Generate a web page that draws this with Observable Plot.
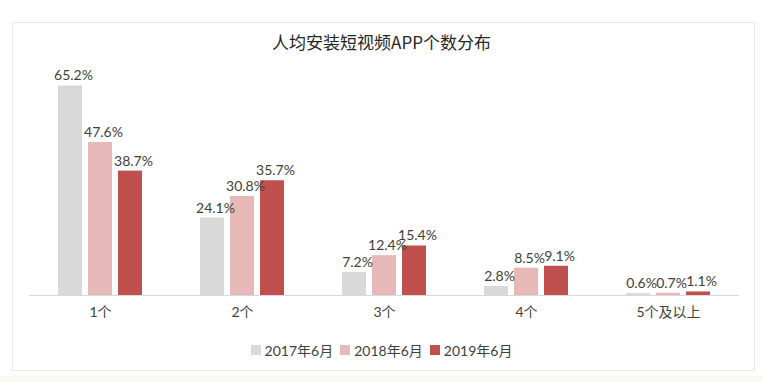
<!DOCTYPE html>
<html>
<head>
<meta charset="utf-8">
<script src="https://cdn.jsdelivr.net/npm/d3@7"></script>
<script src="https://cdn.jsdelivr.net/npm/@observablehq/plot@0.6"></script>
<style>
  body { margin: 0; background: #fff; }
  #wrap { position: relative; width: 763px; height: 382px; overflow: hidden; font-family: Lato, "Noto Sans CJK SC", sans-serif; color: #404040; }
  #frame { position: absolute; left: 12px; top: 22px; width: 743px; height: 349px; border: 1px solid #ebe9e0; box-sizing: border-box; }
  #strip { position: absolute; left: 0; top: 376px; width: 763px; height: 6px; background: #fbf7f1; }
  #title { position: absolute; left: 0; width: 763px; top: 29px; text-align: center; font-size: 17px; font-family: "Noto Sans CJK SC", sans-serif; color: #262626; }
  #chart { position: absolute; left: 0; top: 0; }
  #legend { position: absolute; left: 0; width: 763px; top: 340px; display: flex; justify-content: center; gap: 7px; font-size: 14px; font-family: Lato, "Noto Sans CJK SC", sans-serif; color: #404040; }
  .item { display: flex; align-items: center; gap: 4px; }
  .sw { width: 10px; height: 10px; display: inline-block; }
</style>
</head>
<body>
<div id="wrap">
  <div id="frame"></div>
  <div id="strip"></div>
  <div id="title"></div>
  <div id="chart"></div>
  <div id="legend"></div>
</div>
<script>
const titleText = "人均安装短视频APP个数分布";
const categories = ["1个", "2个", "3个", "4个", "5个及以上"];
const seriesNames = ["2017年6月", "2018年6月", "2019年6月"];
const colors = ["#d9d9d9", "#e6b8b7", "#c0504d"];
const v2017 = [65.2, 24.1, 7.2, 2.8, 0.6];
const v2018 = [47.6, 30.8, 12.4, 8.5, 0.7];
const v2019 = [38.7, 35.7, 15.4, 9.1, 1.1];

const seriesValues = [v2017, v2018, v2019];
const data = [];
categories.forEach((c, i) => {
  seriesNames.forEach((s, j) => {
    data.push({ cat: c, series: s, value: seriesValues[j][i] });
  });
});

document.getElementById("title").textContent = titleText;

const plot = Plot.plot({
  width: 763,
  height: 335,
  marginTop: 70,
  marginBottom: 40,
  marginLeft: 29,
  marginRight: 24,
  style: { fontFamily: 'Lato, "Noto Sans CJK SC", sans-serif', fontSize: "14px", color: "#404040", background: "transparent" },
  fx: { domain: categories, padding: 0, label: null },
  x: { domain: seriesNames, paddingInner: 0.19, paddingOuter: 0.89, axis: null },
  y: { domain: [0, 70], axis: null },
  color: { domain: seriesNames, range: colors },
  marks: [
    Plot.barY(data, { fx: "cat", x: "series", y: "value", fill: "series" }),
    Plot.text(data, { fx: "cat", x: "series", y: "value", text: d => d.value.toFixed(1) + "%", dy: -10, dx: 3, fill: "#404040", fontSize: 14 }),
    Plot.axisFx({ anchor: "bottom", tickSize: 0, tickPadding: 12, fontSize: 14, label: null }),
    Plot.ruleY([0], { stroke: "#d9d9d9", strokeWidth: 1.2 })
  ]
});
document.getElementById("chart").appendChild(plot);

const legend = document.getElementById("legend");
seriesNames.forEach((s, j) => {
  const it = document.createElement("span");
  it.className = "item";
  const sw = document.createElement("span");
  sw.className = "sw";
  sw.style.background = colors[j];
  const t = document.createElement("span");
  t.textContent = s;
  it.appendChild(sw);
  it.appendChild(t);
  legend.appendChild(it);
});
</script>
</body>
</html>
